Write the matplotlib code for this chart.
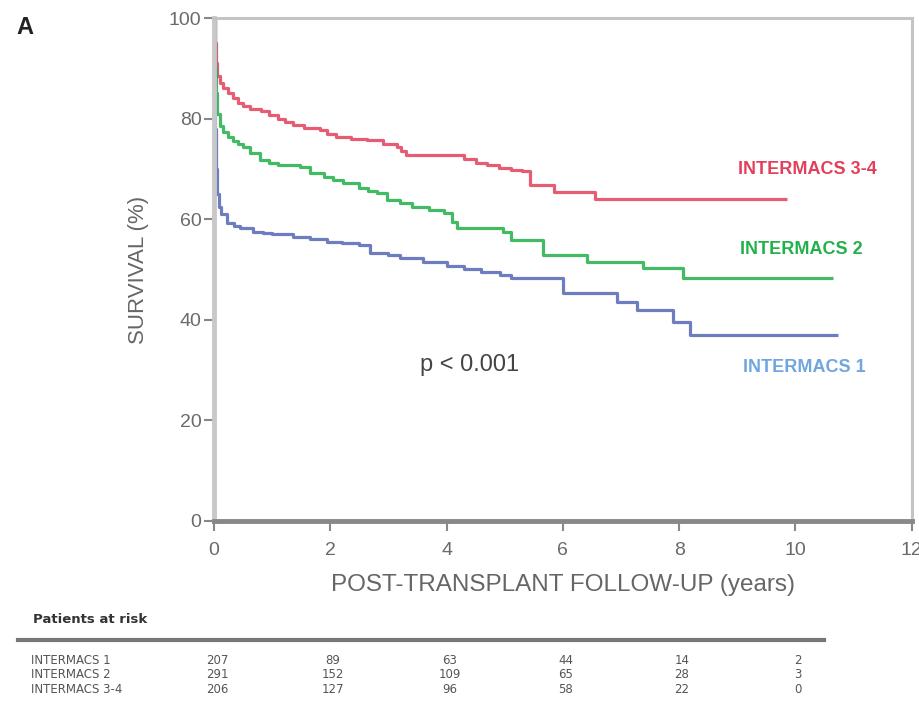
import matplotlib
matplotlib.use("Agg")
import matplotlib.pyplot as plt
import matplotlib.transforms as mtransforms

plt.rcParams['font.family'] = ['Liberation Sans', 'DejaVu Sans']

# ---- data ----
red_t = [0, 0.01, 0.03, 0.06, 0.1, 0.16, 0.24, 0.32, 0.42, 0.5, 0.62, 0.8, 0.95, 1.1, 1.22, 1.36, 1.55, 1.82, 1.95, 2.1, 2.35, 2.63, 2.9, 3.15, 3.22, 3.3, 3.7, 4.3, 4.5, 4.7, 4.9, 5.1, 5.3, 5.44, 5.84, 6.56, 9.86]
red_s = [100, 95, 91, 88.5, 87, 86, 85, 84, 83.2, 82.5, 82.0, 81.5, 80.8, 80, 79.3, 78.7, 78.2, 77.7, 77.0, 76.3, 76.0, 75.7, 75.0, 74.4, 73.6, 72.8, 72.8, 72.0, 71.2, 70.8, 70.2, 69.8, 69.5, 66.8, 65.4, 64.0, 64.0]

green_t = [0, 0.01, 0.03, 0.06, 0.1, 0.16, 0.24, 0.32, 0.42, 0.5, 0.62, 0.79, 0.95, 1.1, 1.48, 1.65, 1.9, 2.05, 2.22, 2.5, 2.65, 2.8, 2.98, 3.2, 3.4, 3.7, 3.95, 4.1, 4.18, 4.97, 5.1, 5.66, 6.42, 7.38, 8.07, 10.65]
green_s = [100, 90, 85, 81, 78.5, 77.3, 76.4, 75.6, 74.9, 74.4, 73.2, 71.8, 71.2, 70.8, 70.3, 69.2, 68.3, 67.7, 67.2, 66.2, 65.7, 65.2, 63.8, 63.2, 62.5, 61.8, 61.2, 59.5, 58.3, 57.5, 55.9, 52.9, 51.5, 50.3, 48.3, 48.3]

blue_t = [0, 0.01, 0.02, 0.03, 0.05, 0.08, 0.12, 0.22, 0.35, 0.45, 0.67, 0.85, 1.0, 1.36, 1.65, 1.94, 2.2, 2.5, 2.68, 3.0, 3.2, 3.6, 4.0, 4.3, 4.6, 4.92, 5.1, 6.0, 6.93, 7.27, 7.9, 8.19, 10.74]
blue_s = [100, 88, 78, 70, 65, 62.5, 61, 59.2, 58.6, 58.3, 57.5, 57.2, 57.0, 56.5, 56.0, 55.5, 55.2, 54.9, 53.3, 52.8, 52.3, 51.5, 50.7, 50.1, 49.5, 48.9, 48.3, 45.3, 43.5, 41.9, 39.6, 37.0, 37.0]

group_labels = ["INTERMACS 1", "INTERMACS 2", "INTERMACS 3-4"]
risk_times = [0, 2, 4, 6, 8, 10]
risk_i1 = [207, 89, 63, 44, 14, 2]
risk_i2 = [291, 152, 109, 65, 28, 3]
risk_i34 = [206, 127, 96, 58, 22, 0]

x_ticks = [0, 2, 4, 6, 8, 10, 12]
y_ticks = [0, 20, 40, 60, 80, 100]

RED = "#e2405a"
GREEN = "#22b04a"
BLUE = "#4a5cb0"
BLUE_LBL = "#6fa6e0"

fig = plt.figure(figsize=(9.2, 7.12), dpi=100)
ax = fig.add_axes([0.2326, 0.2683, 0.7584, 0.7064])

ax.step(red_t, red_s, where="post", color=RED, lw=2.3, alpha=0.85, solid_capstyle="butt")
ax.step(green_t, green_s, where="post", color=GREEN, lw=2.3, alpha=0.85, solid_capstyle="butt")
ax.step(blue_t, blue_s, where="post", color=BLUE, lw=2.3, alpha=0.8, solid_capstyle="butt")

ax.set_xlim(0, 12)
ax.set_ylim(0, 100)
ax.set_xticks(x_ticks)
ax.set_yticks(y_ticks)
ax.tick_params(axis="both", colors="#888888", labelcolor="#6a6a6a", labelsize=14, length=7, width=1.5)
ax.tick_params(axis="x", pad=8)
ax.tick_params(axis="y", pad=2)

for side in ["top", "right"]:
    ax.spines[side].set_color("#c4c4c4")
    ax.spines[side].set_linewidth(2.2)
ax.spines["left"].set_color("#c8c8c8")
ax.spines["left"].set_linewidth(3.5)
ax.spines["bottom"].set_color("#888888")
ax.spines["bottom"].set_linewidth(3.5)

ax.set_xlabel("POST-TRANSPLANT FOLLOW-UP (years)", fontsize=17.5, color="#666666", labelpad=11)
ax.set_ylabel("SURVIVAL (%)", fontsize=16, color="#666666", labelpad=14)

ax.text(10.2, 69.8, "INTERMACS 3-4", color=RED, fontsize=13, fontweight="bold", ha="center", va="center")
ax.text(10.1, 53.9, "INTERMACS 2", color=GREEN, fontsize=13, fontweight="bold", ha="center", va="center")
ax.text(10.15, 30.6, "INTERMACS 1", color=BLUE_LBL, fontsize=13, fontweight="bold", ha="center", va="center")
ax.text(4.4, 31.0, "p < 0.001", color="#444444", fontsize=17, ha="center", va="center")

fig.text(0.018, 0.962, "A", fontsize=17, fontweight="bold", color="#222222", ha="left", va="center")

# ---- risk table ----
fig.text(0.036, 0.130, "Patients at risk", fontsize=9.5, fontweight="bold", color="#333333",
         ha="left", va="center", family=["DejaVu Sans"])
fig.add_artist(plt.Line2D([0.02, 0.896], [0.101, 0.101], transform=fig.transFigure, color="#777777", lw=3))

trans = mtransforms.blended_transform_factory(ax.transData, fig.transFigure)
rows = [risk_i1, risk_i2, risk_i34]
row_y = [0.073, 0.052, 0.031]
for lbl, vals, yy in zip(group_labels, rows, row_y):
    fig.text(0.034, yy, lbl, fontsize=8.5, color="#555555", ha="left", va="center", family=["DejaVu Sans"])
    for t, v in zip(risk_times, vals):
        ax.text(t + 0.05, yy, str(v), fontsize=8.5, color="#555555", ha="center", va="center",
                transform=trans, clip_on=False, family=["DejaVu Sans"])

fig.savefig("out.png", dpi=100, facecolor="white")
